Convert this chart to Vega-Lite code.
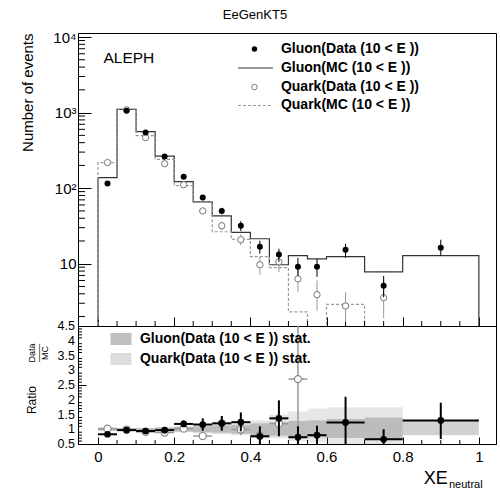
{
  "$schema": "https://vega.github.io/schema/vega-lite/v6.json",
  "autosize": {"type": "pad"},
  "padding": {"left": 20, "top": 8, "right": 0, "bottom": 0},
  "background": "white",
  "spacing": 0,
  "bounds": "flush",
  "config": {
    "font": "Liberation Sans",
    "view": {"stroke": "#000", "strokeWidth": 1},
    "axis": {"grid": false, "domainColor": "#000", "tickColor": "#000", "labelColor": "#000", "titleColor": "#000", "labelFont": "Liberation Sans", "titleFont": "Liberation Sans", "titleFontWeight": "normal", "labelFlush": false, "labelOverlap": false, "labelBound": false},
    "title": {"font": "Liberation Sans", "fontWeight": "normal", "color": "#000"},
    "text": {"font": "Liberation Sans", "color": "#000"}
  },
  "datasets": {
    "mc": [
      {"series": "Gluon(MC (10 < E ))", "x": 0, "y": 0.1, "k": 0},
      {"series": "Gluon(MC (10 < E ))", "x": 0, "y": 138, "k": 1},
      {"series": "Gluon(MC (10 < E ))", "x": 0.05, "y": 1100, "k": 2},
      {"series": "Gluon(MC (10 < E ))", "x": 0.1, "y": 560, "k": 3},
      {"series": "Gluon(MC (10 < E ))", "x": 0.15, "y": 265, "k": 4},
      {"series": "Gluon(MC (10 < E ))", "x": 0.2, "y": 122, "k": 5},
      {"series": "Gluon(MC (10 < E ))", "x": 0.25, "y": 66, "k": 6},
      {"series": "Gluon(MC (10 < E ))", "x": 0.3, "y": 43, "k": 7},
      {"series": "Gluon(MC (10 < E ))", "x": 0.35, "y": 26, "k": 8},
      {"series": "Gluon(MC (10 < E ))", "x": 0.4, "y": 21.4, "k": 9},
      {"series": "Gluon(MC (10 < E ))", "x": 0.45, "y": 9.7, "k": 10},
      {"series": "Gluon(MC (10 < E ))", "x": 0.5, "y": 12.8, "k": 11},
      {"series": "Gluon(MC (10 < E ))", "x": 0.55, "y": 11.6, "k": 12},
      {"series": "Gluon(MC (10 < E ))", "x": 0.6, "y": 12.4, "k": 13},
      {"series": "Gluon(MC (10 < E ))", "x": 0.7, "y": 7.8, "k": 14},
      {"series": "Gluon(MC (10 < E ))", "x": 0.8, "y": 12.8, "k": 15},
      {"series": "Gluon(MC (10 < E ))", "x": 1.0, "y": 12.8, "k": 16},
      {"series": "Gluon(MC (10 < E ))", "x": 1.0, "y": 0.1, "k": 17},
      {"series": "Quark(MC (10 < E ))", "x": 0, "y": 0.1, "k": 0},
      {"series": "Quark(MC (10 < E ))", "x": 0, "y": 218, "k": 1},
      {"series": "Quark(MC (10 < E ))", "x": 0.05, "y": 1110, "k": 2},
      {"series": "Quark(MC (10 < E ))", "x": 0.1, "y": 495, "k": 3},
      {"series": "Quark(MC (10 < E ))", "x": 0.15, "y": 240, "k": 4},
      {"series": "Quark(MC (10 < E ))", "x": 0.2, "y": 108, "k": 5},
      {"series": "Quark(MC (10 < E ))", "x": 0.25, "y": 66, "k": 6},
      {"series": "Quark(MC (10 < E ))", "x": 0.3, "y": 26.5, "k": 7},
      {"series": "Quark(MC (10 < E ))", "x": 0.35, "y": 21, "k": 8},
      {"series": "Quark(MC (10 < E ))", "x": 0.4, "y": 12.4, "k": 9},
      {"series": "Quark(MC (10 < E ))", "x": 0.45, "y": 8.9, "k": 10},
      {"series": "Quark(MC (10 < E ))", "x": 0.5, "y": 2.3, "k": 11},
      {"series": "Quark(MC (10 < E ))", "x": 0.55, "y": 0.1, "k": 12},
      {"series": "Quark(MC (10 < E ))", "x": 0.6, "y": 2.9, "k": 13},
      {"series": "Quark(MC (10 < E ))", "x": 0.7, "y": 0.1, "k": 14},
      {"series": "Quark(MC (10 < E ))", "x": 0.8, "y": 0.1, "k": 15},
      {"series": "Quark(MC (10 < E ))", "x": 1.0, "y": 0.1, "k": 16},
      {"series": "Quark(MC (10 < E ))", "x": 1.0, "y": 0.1, "k": 17}
    ],
    "pts": [
      {"sample": "gluon", "x": 0.025, "y": 115, "lo": 110, "hi": 120},
      {"sample": "gluon", "x": 0.075, "y": 1060, "lo": 1035, "hi": 1085},
      {"sample": "gluon", "x": 0.125, "y": 544, "lo": 528, "hi": 560},
      {"sample": "gluon", "x": 0.175, "y": 263, "lo": 252, "hi": 274},
      {"sample": "gluon", "x": 0.225, "y": 142, "lo": 134, "hi": 150},
      {"sample": "gluon", "x": 0.275, "y": 75, "lo": 69, "hi": 81},
      {"sample": "gluon", "x": 0.325, "y": 50, "lo": 45, "hi": 55},
      {"sample": "gluon", "x": 0.375, "y": 31.8, "lo": 27, "hi": 36.5},
      {"sample": "gluon", "x": 0.425, "y": 16.8, "lo": 13.6, "hi": 20.2},
      {"sample": "gluon", "x": 0.475, "y": 13.2, "lo": 10.6, "hi": 15.8},
      {"sample": "gluon", "x": 0.525, "y": 9.1, "lo": 6.9, "hi": 12},
      {"sample": "gluon", "x": 0.575, "y": 9.1, "lo": 6.7, "hi": 11.6},
      {"sample": "gluon", "x": 0.65, "y": 15.3, "lo": 12, "hi": 18.4},
      {"sample": "gluon", "x": 0.75, "y": 5.1, "lo": 3.6, "hi": 6.9},
      {"sample": "gluon", "x": 0.9, "y": 16.3, "lo": 12.8, "hi": 20.8},
      {"sample": "quark", "x": 0.025, "y": 218, "lo": 210, "hi": 226},
      {"sample": "quark", "x": 0.075, "y": 1090, "lo": 1065, "hi": 1115},
      {"sample": "quark", "x": 0.125, "y": 466, "lo": 452, "hi": 480},
      {"sample": "quark", "x": 0.175, "y": 211, "lo": 202, "hi": 220},
      {"sample": "quark", "x": 0.225, "y": 111, "lo": 104, "hi": 118},
      {"sample": "quark", "x": 0.275, "y": 50, "lo": 45, "hi": 55},
      {"sample": "quark", "x": 0.325, "y": 31.8, "lo": 28, "hi": 36},
      {"sample": "quark", "x": 0.375, "y": 20.8, "lo": 17.5, "hi": 24.5},
      {"sample": "quark", "x": 0.425, "y": 9.7, "lo": 7.1, "hi": 12.4},
      {"sample": "quark", "x": 0.475, "y": 10.6, "lo": 7.8, "hi": 14.4},
      {"sample": "quark", "x": 0.525, "y": 6.3, "lo": 4.2, "hi": 9},
      {"sample": "quark", "x": 0.575, "y": 3.9, "lo": 2.4, "hi": 6},
      {"sample": "quark", "x": 0.65, "y": 2.76, "lo": 1.7, "hi": 4.2},
      {"sample": "quark", "x": 0.75, "y": 3.55, "lo": 1.9, "hi": 6}
    ],
    "rt": [
      {"sample": "gluon", "x": 0.025, "xlo": 0, "xhi": 0.05, "r": 0.83, "rlo": 0.8, "rhi": 0.86},
      {"sample": "gluon", "x": 0.075, "xlo": 0.05, "xhi": 0.1, "r": 0.97, "rlo": 0.95, "rhi": 0.99},
      {"sample": "gluon", "x": 0.125, "xlo": 0.1, "xhi": 0.15, "r": 0.94, "rlo": 0.91, "rhi": 0.97},
      {"sample": "gluon", "x": 0.175, "xlo": 0.15, "xhi": 0.2, "r": 0.97, "rlo": 0.93, "rhi": 1.01},
      {"sample": "gluon", "x": 0.225, "xlo": 0.2, "xhi": 0.25, "r": 1.18, "rlo": 1.08, "rhi": 1.3},
      {"sample": "gluon", "x": 0.275, "xlo": 0.25, "xhi": 0.3, "r": 1.16, "rlo": 0.95, "rhi": 1.37},
      {"sample": "gluon", "x": 0.325, "xlo": 0.3, "xhi": 0.35, "r": 1.2, "rlo": 0.95, "rhi": 1.45},
      {"sample": "gluon", "x": 0.375, "xlo": 0.35, "xhi": 0.4, "r": 1.24, "rlo": 0.93, "rhi": 1.57},
      {"sample": "gluon", "x": 0.425, "xlo": 0.4, "xhi": 0.45, "r": 0.76, "rlo": 0.45, "rhi": 1.1},
      {"sample": "gluon", "x": 0.475, "xlo": 0.45, "xhi": 0.5, "r": 1.37, "rlo": 0.76, "rhi": 1.98},
      {"sample": "gluon", "x": 0.525, "xlo": 0.5, "xhi": 0.55, "r": 0.73, "rlo": 0.4, "rhi": 1.1},
      {"sample": "gluon", "x": 0.575, "xlo": 0.55, "xhi": 0.6, "r": 0.8, "rlo": 0.45, "rhi": 1.12},
      {"sample": "gluon", "x": 0.65, "xlo": 0.6, "xhi": 0.7, "r": 1.23, "rlo": 0.4, "rhi": 2.1},
      {"sample": "gluon", "x": 0.75, "xlo": 0.7, "xhi": 0.8, "r": 0.66, "rlo": 0.4, "rhi": 1.0},
      {"sample": "gluon", "x": 0.9, "xlo": 0.8, "xhi": 1.0, "r": 1.3, "rlo": 0.67, "rhi": 1.9},
      {"sample": "quark", "x": 0.025, "xlo": 0, "xhi": 0.05, "r": 1.02, "rlo": 0.97, "rhi": 1.07},
      {"sample": "quark", "x": 0.075, "xlo": 0.05, "xhi": 0.1, "r": 0.99, "rlo": 0.96, "rhi": 1.02},
      {"sample": "quark", "x": 0.125, "xlo": 0.1, "xhi": 0.15, "r": 0.91, "rlo": 0.87, "rhi": 0.95},
      {"sample": "quark", "x": 0.175, "xlo": 0.15, "xhi": 0.2, "r": 0.89, "rlo": 0.84, "rhi": 0.94},
      {"sample": "quark", "x": 0.225, "xlo": 0.2, "xhi": 0.25, "r": 1.02, "rlo": 0.94, "rhi": 1.1},
      {"sample": "quark", "x": 0.275, "xlo": 0.25, "xhi": 0.3, "r": 0.77, "rlo": 0.66, "rhi": 0.88},
      {"sample": "quark", "x": 0.325, "xlo": 0.3, "xhi": 0.35, "r": 1.2, "rlo": 1.0, "rhi": 1.4},
      {"sample": "quark", "x": 0.375, "xlo": 0.35, "xhi": 0.4, "r": 0.99, "rlo": 0.8, "rhi": 1.2},
      {"sample": "quark", "x": 0.425, "xlo": 0.4, "xhi": 0.45, "r": 0.78, "rlo": 0.55, "rhi": 1.02},
      {"sample": "quark", "x": 0.475, "xlo": 0.45, "xhi": 0.5, "r": 1.19, "rlo": 0.85, "rhi": 1.6},
      {"sample": "quark", "x": 0.525, "xlo": 0.5, "xhi": 0.55, "r": 2.7, "rlo": 0.3, "rhi": 4.7}
    ],
    "bd": [
      {"series": "gluon", "xlo": 0, "xhi": 0.05, "lo": 0.95, "hi": 1.05},
      {"series": "gluon", "xlo": 0.05, "xhi": 0.1, "lo": 0.97, "hi": 1.03},
      {"series": "gluon", "xlo": 0.1, "xhi": 0.15, "lo": 0.96, "hi": 1.04},
      {"series": "gluon", "xlo": 0.15, "xhi": 0.2, "lo": 0.94, "hi": 1.06},
      {"series": "gluon", "xlo": 0.2, "xhi": 0.25, "lo": 0.92, "hi": 1.08},
      {"series": "gluon", "xlo": 0.25, "xhi": 0.3, "lo": 0.9, "hi": 1.1},
      {"series": "gluon", "xlo": 0.3, "xhi": 0.35, "lo": 0.88, "hi": 1.12},
      {"series": "gluon", "xlo": 0.35, "xhi": 0.4, "lo": 0.85, "hi": 1.15},
      {"series": "gluon", "xlo": 0.4, "xhi": 0.45, "lo": 0.8, "hi": 1.2},
      {"series": "gluon", "xlo": 0.45, "xhi": 0.5, "lo": 0.78, "hi": 1.24},
      {"series": "gluon", "xlo": 0.5, "xhi": 0.55, "lo": 0.75, "hi": 1.28},
      {"series": "gluon", "xlo": 0.55, "xhi": 0.6, "lo": 0.72, "hi": 1.3},
      {"series": "gluon", "xlo": 0.6, "xhi": 0.7, "lo": 0.7, "hi": 1.35},
      {"series": "gluon", "xlo": 0.7, "xhi": 0.8, "lo": 0.65, "hi": 1.4},
      {"series": "gluon", "xlo": 0.8, "xhi": 1.0, "lo": 0.8, "hi": 1.3},
      {"series": "quark", "xlo": 0, "xhi": 0.05, "lo": 0.94, "hi": 1.06},
      {"series": "quark", "xlo": 0.05, "xhi": 0.1, "lo": 0.96, "hi": 1.04},
      {"series": "quark", "xlo": 0.1, "xhi": 0.15, "lo": 0.95, "hi": 1.05},
      {"series": "quark", "xlo": 0.15, "xhi": 0.2, "lo": 0.93, "hi": 1.07},
      {"series": "quark", "xlo": 0.2, "xhi": 0.25, "lo": 0.9, "hi": 1.1},
      {"series": "quark", "xlo": 0.25, "xhi": 0.3, "lo": 0.86, "hi": 1.14},
      {"series": "quark", "xlo": 0.3, "xhi": 0.35, "lo": 0.83, "hi": 1.17},
      {"series": "quark", "xlo": 0.35, "xhi": 0.4, "lo": 0.8, "hi": 1.2},
      {"series": "quark", "xlo": 0.4, "xhi": 0.45, "lo": 0.72, "hi": 1.3},
      {"series": "quark", "xlo": 0.45, "xhi": 0.5, "lo": 0.7, "hi": 1.5},
      {"series": "quark", "xlo": 0.5, "xhi": 0.55, "lo": 0.6, "hi": 1.6},
      {"series": "quark", "xlo": 0.55, "xhi": 0.6, "lo": 0.55, "hi": 1.7},
      {"series": "quark", "xlo": 0.6, "xhi": 0.7, "lo": 0.4, "hi": 1.75},
      {"series": "quark", "xlo": 0.7, "xhi": 0.8, "lo": 0.4, "hi": 1.75}
    ],
    "tklogy": [{"v": 2}, {"v": 3}, {"v": 4}, {"v": 5}, {"v": 6}, {"v": 7}, {"v": 8}, {"v": 9}, {"v": 20}, {"v": 30}, {"v": 40}, {"v": 50}, {"v": 60}, {"v": 70}, {"v": 80}, {"v": 90}, {"v": 200}, {"v": 300}, {"v": 400}, {"v": 500}, {"v": 600}, {"v": 700}, {"v": 800}, {"v": 900}, {"v": 2000}, {"v": 3000}, {"v": 4000}, {"v": 5000}, {"v": 6000}, {"v": 7000}, {"v": 8000}, {"v": 9000}],
    "tkx": [{"v": 0.05}, {"v": 0.1}, {"v": 0.15}, {"v": 0.25}, {"v": 0.3}, {"v": 0.35}, {"v": 0.45}, {"v": 0.5}, {"v": 0.55}, {"v": 0.65}, {"v": 0.7}, {"v": 0.75}, {"v": 0.85}, {"v": 0.9}, {"v": 0.95}],
    "tkry": [{"v": 0.6}, {"v": 0.7}, {"v": 0.8}, {"v": 0.9}, {"v": 1.1}, {"v": 1.2}, {"v": 1.3}, {"v": 1.4}, {"v": 1.6}, {"v": 1.7}, {"v": 1.8}, {"v": 1.9}, {"v": 2.1}, {"v": 2.2}, {"v": 2.3}, {"v": 2.4}, {"v": 2.6}, {"v": 2.7}, {"v": 2.8}, {"v": 2.9}, {"v": 3.1}, {"v": 3.2}, {"v": 3.3}, {"v": 3.4}, {"v": 3.6}, {"v": 3.7}, {"v": 3.8}, {"v": 3.9}, {"v": 4.1}, {"v": 4.2}, {"v": 4.3}, {"v": 4.4}],
    "rylab": [{"v": 0.5, "s": "0.5"}, {"v": 1, "s": "1"}, {"v": 1.5, "s": "1.5"}, {"v": 2, "s": "2"}, {"v": 2.5, "s": "2.5"}, {"v": 3, "s": "3"}, {"v": 3.5, "s": "3.5"}, {"v": 4, "s": "4"}, {"v": 4.5, "s": "4.5"}]
  },
  "vconcat": [
    {
      "width": 418,
      "height": 293,
      "title": {"text": "EeGenKT5", "anchor": "middle", "dx": -32, "fontSize": 13, "offset": 8},
      "layer": [
        {
          "data": {"name": "mc"},
          "mark": {"type": "line", "interpolate": "step-after", "clip": true, "strokeWidth": 1.2},
          "encoding": {
            "x": {"field": "x", "type": "quantitative", "scale": {"domain": [-0.0525, 1.045], "nice": false, "zero": false},
              "axis": {"orient": "bottom", "values": [0, 0.2, 0.4, 0.6, 0.8, 1.0], "labels": false, "title": null, "tickSize": -9}},
            "y": {"field": "y", "type": "quantitative", "scale": {"type": "log", "domain": [1.5, 11300], "nice": false},
              "axis": {"orient": "left", "values": [10, 100, 1000, 10000], "labelOverlap": false,
                "labelExpr": "datum.value == 10 ? '10' : datum.value == 100 ? '10²' : datum.value == 1000 ? '10³' : '10⁴'",
                "labelFontSize": 15, "labelPadding": 15, "tickSize": -13,
                "title": "Number of events", "titleFontSize": 15, "titleAnchor": "end", "titlePadding": 17}},
            "order": {"field": "k", "type": "quantitative"},
            "strokeDash": {"condition": {"test": "datum.series == 'Quark(MC (10 < E ))'", "value": [3, 2]}, "value": [1, 0]},
            "color": {"field": "series", "type": "nominal", "legend": null,
              "scale": {"domain": ["Gluon(MC (10 < E ))", "Quark(MC (10 < E ))"], "range": ["#333", "#999"]}}
          }
        },
        {
          "data": {"name": "tklogy"},
          "mark": {"type": "rule", "color": "#000", "strokeWidth": 1},
          "encoding": {"y": {"field": "v", "type": "quantitative"}, "x": {"datum": -0.0525}, "x2": {"datum": -0.0341}}
        },
        {
          "data": {"name": "tkx"},
          "mark": {"type": "rule", "color": "#000", "strokeWidth": 1},
          "encoding": {"x": {"field": "v", "type": "quantitative"}, "y": {"datum": 1.5}, "y2": {"datum": 1.747}}
        },
        {
          "data": {"name": "pts"},
          "transform": [{"filter": "datum.sample == 'quark'"}],
          "mark": {"type": "rule", "color": "#999", "strokeWidth": 1, "clip": true},
          "encoding": {"x": {"field": "x", "type": "quantitative"}, "y": {"field": "lo", "type": "quantitative"}, "y2": {"field": "hi"}}
        },
        {
          "data": {"name": "pts"},
          "transform": [{"filter": "datum.sample == 'quark'"}],
          "mark": {"type": "point", "shape": "circle", "filled": true, "fill": "#fff", "stroke": "#777", "strokeWidth": 1, "size": 40, "opacity": 1, "clip": true},
          "encoding": {"x": {"field": "x", "type": "quantitative"}, "y": {"field": "y", "type": "quantitative"}}
        },
        {
          "data": {"name": "pts"},
          "transform": [{"filter": "datum.sample == 'gluon'"}],
          "mark": {"type": "rule", "color": "#000", "strokeWidth": 1, "clip": true},
          "encoding": {"x": {"field": "x", "type": "quantitative"}, "y": {"field": "lo", "type": "quantitative"}, "y2": {"field": "hi"}}
        },
        {
          "data": {"name": "pts"},
          "transform": [{"filter": "datum.sample == 'gluon'"}],
          "mark": {"type": "point", "shape": "circle", "filled": true, "color": "#000", "size": 36, "opacity": 1, "clip": true},
          "encoding": {"x": {"field": "x", "type": "quantitative"}, "y": {"field": "y", "type": "quantitative"}}
        },
        {
          "data": {"values": [{"t": "ALEPH"}]},
          "mark": {"type": "text", "align": "left", "baseline": "middle", "fontSize": 15.5},
          "encoding": {"x": {"datum": 0.0144}, "y": {"datum": 5270}, "text": {"field": "t"}}
        },
        {
          "data": {"values": [{"t": "Gluon(Data (10 < E ))"}]},
          "mark": {"type": "point", "shape": "circle", "filled": true, "color": "#000", "size": 30, "opacity": 1},
          "encoding": {"x": {"datum": 0.4108}, "y": {"datum": 6935}}
        },
        {
          "data": {"values": [{"t": "Gluon(MC (10 < E ))"}]},
          "mark": {"type": "rule", "color": "#333", "strokeWidth": 1.2},
          "encoding": {"x": {"datum": 0.3675}, "x2": {"datum": 0.4593}, "y": {"datum": 3890}}
        },
        {
          "data": {"values": [{"t": "Quark(Data (10 < E ))"}]},
          "mark": {"type": "point", "shape": "circle", "filled": true, "fill": "#fff", "stroke": "#777", "strokeWidth": 1, "size": 30, "opacity": 1},
          "encoding": {"x": {"datum": 0.4108}, "y": {"datum": 2178}}
        },
        {
          "data": {"values": [{"t": "Quark(MC (10 < E ))"}]},
          "mark": {"type": "rule", "color": "#999", "strokeWidth": 1.2, "strokeDash": [3, 2]},
          "encoding": {"x": {"datum": 0.3675}, "x2": {"datum": 0.4593}, "y": {"datum": 1241}}
        },
        {
          "data": {"values": [{"t": "Gluon(Data (10 < E ))"}]},
          "mark": {"type": "text", "align": "left", "baseline": "middle", "fontSize": 14, "fontWeight": "bold"},
          "encoding": {"x": {"datum": 0.4803}, "y": {"datum": 6935}, "text": {"field": "t"}}
        },
        {
          "data": {"values": [{"t": "Gluon(MC (10 < E ))"}]},
          "mark": {"type": "text", "align": "left", "baseline": "middle", "fontSize": 14, "fontWeight": "bold"},
          "encoding": {"x": {"datum": 0.4803}, "y": {"datum": 3890}, "text": {"field": "t"}}
        },
        {
          "data": {"values": [{"t": "Quark(Data (10 < E ))"}]},
          "mark": {"type": "text", "align": "left", "baseline": "middle", "fontSize": 14, "fontWeight": "bold"},
          "encoding": {"x": {"datum": 0.4803}, "y": {"datum": 2178}, "text": {"field": "t"}}
        },
        {
          "data": {"values": [{"t": "Quark(MC (10 < E ))"}]},
          "mark": {"type": "text", "align": "left", "baseline": "middle", "fontSize": 14, "fontWeight": "bold"},
          "encoding": {"x": {"datum": 0.4803}, "y": {"datum": 1241}, "text": {"field": "t"}}
        }
      ]
    },
    {
      "width": 418,
      "height": 118,
      "layer": [
        {
          "data": {"name": "bd"},
          "transform": [{"filter": "datum.series == 'quark'"}],
          "mark": {"type": "rect", "color": "#666", "opacity": 0.16, "clip": true},
          "encoding": {
            "x": {"field": "xlo", "type": "quantitative", "scale": {"domain": [-0.0525, 1.045], "nice": false, "zero": false},
              "axis": {"orient": "bottom", "values": [0, 0.2, 0.4, 0.6, 0.8, 1.0], "format": "~g", "labelOverlap": false, "labelFontSize": 15, "labelPadding": 12, "tickSize": -7, "title": null}},
            "x2": {"field": "xhi"},
            "y": {"field": "lo", "type": "quantitative", "scale": {"domain": [0.5, 4.5], "nice": false, "zero": false},
              "axis": {"orient": "left", "values": [0.5, 1, 1.5, 2, 2.5, 3, 3.5, 4, 4.5], "labels": false, "tickSize": -8, "title": null}},
            "y2": {"field": "hi"}
          }
        },
        {
          "data": {"name": "bd"},
          "transform": [{"filter": "datum.series == 'gluon'"}],
          "mark": {"type": "rect", "color": "#000", "opacity": 0.18, "clip": true},
          "encoding": {"x": {"field": "xlo", "type": "quantitative"}, "x2": {"field": "xhi"}, "y": {"field": "lo", "type": "quantitative"}, "y2": {"field": "hi"}}
        },
        {
          "data": {"name": "rylab"},
          "mark": {"type": "text", "align": "right", "baseline": "middle", "fontSize": 12.5, "dx": -3},
          "encoding": {"y": {"field": "v", "type": "quantitative"}, "x": {"datum": -0.0525}, "text": {"field": "s"}}
        },
        {
          "data": {"name": "tkry"},
          "mark": {"type": "rule", "color": "#000", "strokeWidth": 1},
          "encoding": {"y": {"field": "v", "type": "quantitative"}, "x": {"datum": -0.0525}, "x2": {"datum": -0.042}}
        },
        {
          "data": {"name": "tkx"},
          "mark": {"type": "rule", "color": "#000", "strokeWidth": 1},
          "encoding": {"x": {"field": "v", "type": "quantitative"}, "y": {"datum": 0.5}, "y2": {"datum": 0.636}}
        },
        {
          "mark": {"type": "rule", "strokeDash": [4, 3], "color": "#000", "strokeWidth": 1},
          "encoding": {"y": {"datum": 1}}
        },
        {
          "data": {"name": "rt"},
          "transform": [{"filter": "datum.sample == 'quark'"}],
          "mark": {"type": "rule", "color": "#999", "strokeWidth": 1.5, "clip": true},
          "encoding": {"x": {"field": "xlo", "type": "quantitative"}, "x2": {"field": "xhi"}, "y": {"field": "r", "type": "quantitative"}}
        },
        {
          "data": {"name": "rt"},
          "transform": [{"filter": "datum.sample == 'quark'"}],
          "mark": {"type": "rule", "color": "#999", "strokeWidth": 1.5, "clip": true},
          "encoding": {"x": {"field": "x", "type": "quantitative"}, "y": {"field": "rlo", "type": "quantitative"}, "y2": {"field": "rhi"}}
        },
        {
          "data": {"name": "rt"},
          "transform": [{"filter": "datum.sample == 'quark'"}],
          "mark": {"type": "point", "shape": "circle", "filled": true, "fill": "#fff", "stroke": "#888", "strokeWidth": 1.2, "size": 50, "opacity": 1, "clip": true},
          "encoding": {"x": {"field": "x", "type": "quantitative"}, "y": {"field": "r", "type": "quantitative"}}
        },
        {
          "data": {"name": "rt"},
          "transform": [{"filter": "datum.sample == 'gluon'"}],
          "mark": {"type": "rule", "color": "#000", "strokeWidth": 2, "clip": true},
          "encoding": {"x": {"field": "xlo", "type": "quantitative"}, "x2": {"field": "xhi"}, "y": {"field": "r", "type": "quantitative"}}
        },
        {
          "data": {"name": "rt"},
          "transform": [{"filter": "datum.sample == 'gluon'"}],
          "mark": {"type": "rule", "color": "#000", "strokeWidth": 2, "clip": true},
          "encoding": {"x": {"field": "x", "type": "quantitative"}, "y": {"field": "rlo", "type": "quantitative"}, "y2": {"field": "rhi"}}
        },
        {
          "data": {"name": "rt"},
          "transform": [{"filter": "datum.sample == 'gluon'"}],
          "mark": {"type": "point", "shape": "circle", "filled": true, "color": "#000", "size": 45, "opacity": 1, "clip": true},
          "encoding": {"x": {"field": "x", "type": "quantitative"}, "y": {"field": "r", "type": "quantitative"}}
        },
        {
          "data": {"values": [{"t": "Gluon(Data (10 < E )) stat."}]},
          "mark": {"type": "rect", "color": "#000", "opacity": 0.25},
          "encoding": {"x": {"datum": 0.0328}, "x2": {"datum": 0.0879}, "y": {"datum": 4.263}, "y2": {"datum": 3.856}}
        },
        {
          "data": {"values": [{"t": "Quark(Data (10 < E )) stat."}]},
          "mark": {"type": "rect", "color": "#666", "opacity": 0.22},
          "encoding": {"x": {"datum": 0.0328}, "x2": {"datum": 0.0879}, "y": {"datum": 3.585}, "y2": {"datum": 3.178}}
        },
        {
          "data": {"values": [{"t": "Gluon(Data (10 < E )) stat."}]},
          "mark": {"type": "text", "align": "left", "baseline": "middle", "fontSize": 14, "fontWeight": "bold"},
          "encoding": {"x": {"datum": 0.1102}, "y": {"datum": 4.059}, "text": {"field": "t"}}
        },
        {
          "data": {"values": [{"t": "Quark(Data (10 < E )) stat."}]},
          "mark": {"type": "text", "align": "left", "baseline": "middle", "fontSize": 14, "fontWeight": "bold"},
          "encoding": {"x": {"datum": 0.1102}, "y": {"datum": 3.381}, "text": {"field": "t"}}
        },
        {
          "data": {"values": [{"t": "Ratio"}]},
          "mark": {"type": "text", "angle": 270, "align": "center", "baseline": "alphabetic", "fontSize": 12},
          "encoding": {"x": {"datum": -0.1627}, "y": {"datum": 1.99}, "text": {"field": "t"}}
        },
        {
          "data": {"values": [{"t": "Data"}]},
          "mark": {"type": "text", "angle": 270, "align": "center", "baseline": "alphabetic", "fontSize": 9},
          "encoding": {"x": {"datum": -0.1654}, "y": {"datum": 3.585}, "text": {"field": "t"}}
        },
        {
          "data": {"values": [{"t": "——"}]},
          "mark": {"type": "text", "angle": 270, "align": "center", "baseline": "alphabetic", "fontSize": 9},
          "encoding": {"x": {"datum": -0.1483}, "y": {"datum": 3.585}, "text": {"field": "t"}}
        },
        {
          "data": {"values": [{"t": "MC"}]},
          "mark": {"type": "text", "angle": 270, "align": "center", "baseline": "alphabetic", "fontSize": 9},
          "encoding": {"x": {"datum": -0.1312}, "y": {"datum": 3.585}, "text": {"field": "t"}}
        },
        {
          "data": {"values": [{"t": "XE"}]},
          "mark": {"type": "text", "align": "right", "baseline": "alphabetic", "fontSize": 18},
          "encoding": {"x": {"datum": 0.9186}, "y": {"datum": -0.856}, "text": {"field": "t"}}
        },
        {
          "data": {"values": [{"t": "neutral"}]},
          "mark": {"type": "text", "align": "left", "baseline": "alphabetic", "fontSize": 11},
          "encoding": {"x": {"datum": 0.9216}, "y": {"datum": -0.99}, "text": {"field": "t"}}
        }
      ]
    }
  ]
}
